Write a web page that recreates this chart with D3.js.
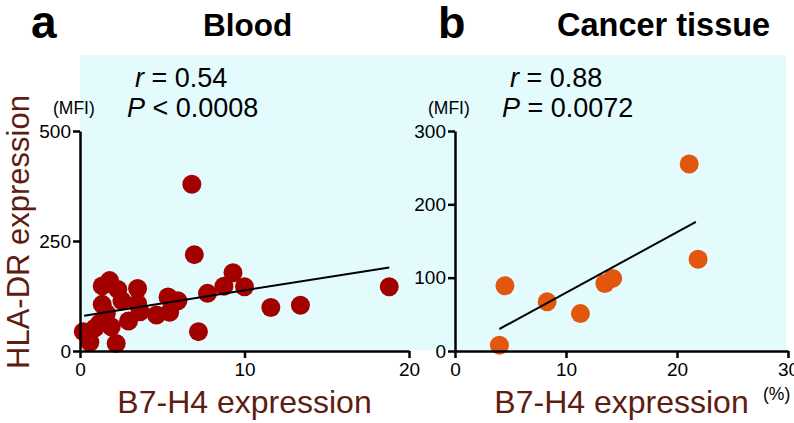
<!DOCTYPE html>
<html>
<head>
<meta charset="utf-8">
<script src="https://cdn.jsdelivr.net/npm/d3@7"></script>
<style>
  html, body { margin: 0; padding: 0; background: #ffffff; }
  svg { display: block; font-family: "Liberation Sans", Arial, Helvetica, sans-serif; }
</style>
</head>
<body>
<svg id="chart" width="794" height="423"></svg>
<script>
// ---- Data ----
// Panel a: Blood — B7-H4 expression (%) vs HLA-DR expression (MFI)
const bloodX = [0.2, 0.6, 2.2, 1.35, 1.8, 2.3, 3.5, 1.35, 2.55, 3.5, 2.95, 3.65, 4.65, 5.35, 5.45, 5.95,
                7.75, 8.75, 9.3, 10.0, 1.2, 1.9, 1.6, 0.9, 6.8, 6.95, 7.2, 11.6, 13.4, 18.8];
const bloodY = [44, 20, 17, 148, 160, 140, 142, 106, 114, 108, 68, 89, 82, 123, 88, 114,
                131, 147, 178, 146, 63, 55, 86, 52, 379, 219, 44, 99, 104, 146];
const bloodFitX = [0.25, 18.8];
const bloodFitY = [80, 190];

// Panel b: Cancer tissue
const tissueX = [4.0, 4.5, 8.3, 11.3, 13.5, 14.2, 21.1, 21.9];
const tissueY = [8, 89, 67, 51, 92, 99, 255, 125];
const tissueFitX = [4.0, 21.7];
const tissueFitY = [30, 176];

// Tick labels
const bloodXTicks = [0, 10, 20];
const bloodYTicks = [0, 250, 500];
const tissueXTicks = [0, 10, 20, 30];
const tissueYTicks = [0, 100, 200, 300];

// Texts
const panelLetters = ["a", "b"];
const panelTitles = ["Blood", "Cancer tissue"];
const statR = ["0.54", "0.88"];
const statP = ["< 0.0008", "= 0.0072"];

// ---- Drawing ----
const svg = d3.select("#chart");
const labelColor = "#5e1c12";

// light cyan background
svg.append("rect")
  .attr("x", 80).attr("y", 55)
  .attr("width", 706).attr("height", 295)
  .attr("fill", "#e3fbfc");

function panel(cfg) {
  const x = d3.scaleLinear().domain(cfg.xDomain).range(cfg.xRange);
  const y = d3.scaleLinear().domain(cfg.yDomain).range([351, 131]);
  const g = svg.append("g");

  // points
  g.selectAll("circle.pt")
    .data(cfg.xs.map((v, i) => [v, cfg.ys[i]]))
    .join("circle")
    .attr("class", "pt")
    .attr("cx", d => x(d[0]))
    .attr("cy", d => y(d[1]))
    .attr("r", cfg.r)
    .attr("fill", cfg.color);

  // fit line
  const line = d3.line().x(d => x(d[0])).y(d => y(d[1]));
  g.append("path")
    .datum(cfg.fitX.map((v, i) => [v, cfg.fitY[i]]))
    .attr("d", line)
    .attr("fill", "none")
    .attr("stroke", "#000")
    .attr("stroke-width", 2);

  // axes
  const ax = g.append("g")
    .attr("transform", "translate(0,351)")
    .call(d3.axisBottom(x).tickValues(cfg.xTicks).tickSize(7).tickSizeOuter(0).tickPadding(5));
  const ay = g.append("g")
    .attr("transform", `translate(${cfg.xRange[0]},0)`)
    .call(d3.axisLeft(y).tickValues(cfg.yTicks).tickSize(7).tickSizeOuter(0).tickPadding(2));
  [ax, ay].forEach(a => {
    a.select(".domain").attr("stroke", "#000").attr("stroke-width", 2.5);
    a.selectAll(".tick line").attr("stroke", "#000").attr("stroke-width", 2.5);
    a.selectAll(".tick text").attr("fill", "#000").attr("font-size", 19)
      .attr("font-family", "'Liberation Sans', Arial, sans-serif");
  });

  // (MFI)
  g.append("text")
    .attr("x", cfg.xRange[0] - 27).attr("y", 114)
    .attr("font-size", 17.5).attr("fill", "#000")
    .text("(MFI)");

  // stats
  const tr = g.append("text").attr("x", cfg.xRange[0] + 55).attr("y", 87)
    .attr("font-size", 27).attr("fill", "#000");
  tr.append("tspan").attr("font-style", "italic").text("r");
  tr.append("tspan").text(" = " + statR[cfg.i]);
  const tp = g.append("text").attr("x", cfg.xRange[0] + 47).attr("y", 117)
    .attr("font-size", 27).attr("fill", "#000");
  tp.append("tspan").attr("font-style", "italic").text("P");
  tp.append("tspan").text(" " + statP[cfg.i]);

  // x label
  g.append("text")
    .attr("x", (cfg.xRange[0] + cfg.xRange[1]) / 2).attr("y", 413)
    .attr("text-anchor", "middle")
    .attr("font-size", 32).attr("fill", labelColor)
    .text("B7-H4 expression");

  // panel letter + title
  g.append("text")
    .attr("x", cfg.letterX).attr("y", 38)
    .attr("font-size", cfg.letterSize).attr("font-weight", "bold").attr("fill", "#000")
    .text(panelLetters[cfg.i]);
  g.append("text")
    .attr("x", cfg.titleX).attr("y", 36)
    .attr("font-size", cfg.titleSize).attr("font-weight", "bold").attr("fill", "#000")
    .text(panelTitles[cfg.i]);
  return g;
}

panel({ i: 0, xs: bloodX, ys: bloodY, fitX: bloodFitX, fitY: bloodFitY,
        xDomain: [0, 20], xRange: [80, 409], yDomain: [0, 500],
        xTicks: bloodXTicks, yTicks: bloodYTicks, color: "#a30000", r: 9.5,
        letterX: 31, letterSize: 46, titleX: 203, titleSize: 31.5 });
panel({ i: 1, xs: tissueX, ys: tissueY, fitX: tissueFitX, fitY: tissueFitY,
        xDomain: [0, 30], xRange: [455, 788], yDomain: [0, 300],
        xTicks: tissueXTicks, yTicks: tissueYTicks, color: "#e2560e", r: 9.5,
        letterX: 438, letterSize: 45, titleX: 557, titleSize: 32.5 });

// y-axis label (shared, left)
svg.append("text")
  .attr("transform", "translate(29,232) rotate(-90)")
  .attr("text-anchor", "middle")
  .attr("font-size", 31).attr("fill", labelColor)
  .text("HLA-DR expression");

// (%) unit
svg.append("text")
  .attr("x", 763).attr("y", 400)
  .attr("font-size", 17.5).attr("fill", "#000")
  .text("(%)");
</script>
</body>
</html>
